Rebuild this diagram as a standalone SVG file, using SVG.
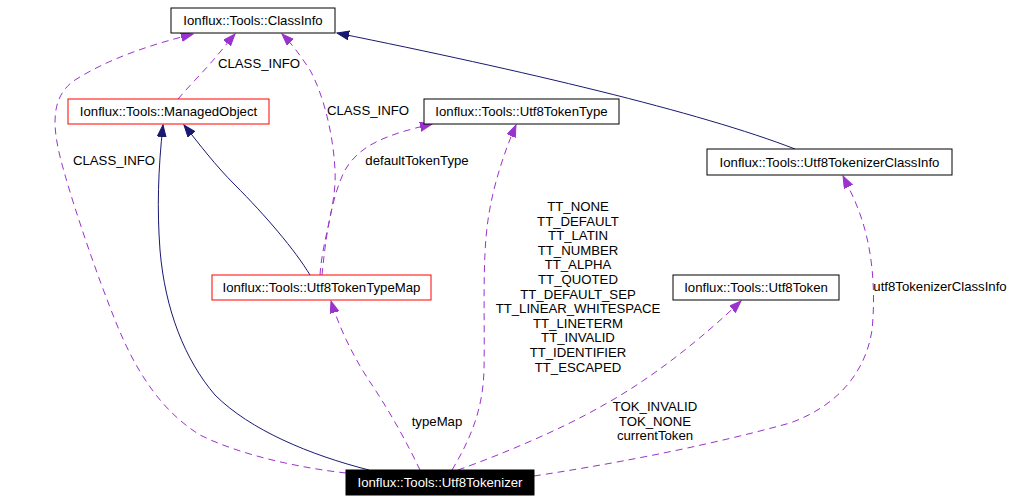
<svg xmlns="http://www.w3.org/2000/svg" width="1029" height="501" viewBox="0 0 1029 501">
<style>
  text { font-family: "Liberation Sans", Arial, sans-serif; font-size: 13.2px; fill: #000; }
  .c { text-anchor: middle; }
  .node rect { fill: #fff; stroke: #000; stroke-width: 1; }
  .node.red rect { stroke: #ff0000; }
  .node.self rect { fill: #000; stroke: #000; }
  .node.self text { fill: #fff; }
  .inh { fill: none; stroke: #191970; stroke-width: 1; marker-end: url(#ab); }
  .use { fill: none; stroke: #9a32cd; stroke-width: 1; stroke-dasharray: 7,5; marker-end: url(#ap); }
</style>
<defs>
  <marker id="ab" markerUnits="userSpaceOnUse" markerWidth="13" markerHeight="10" refX="12" refY="4.5" orient="auto">
    <path d="M0,0 L12,4.5 L0,9 z" fill="#191970" stroke="#191970" stroke-width="1"/>
  </marker>
  <marker id="ap" markerUnits="userSpaceOnUse" markerWidth="13" markerHeight="10" refX="12" refY="4.5" orient="auto">
    <path d="M0,0 L12,4.5 L0,9 z" fill="#9a32cd" stroke="#9a32cd" stroke-width="1"/>
  </marker>
</defs>
<rect x="0" y="0" width="1029" height="501" fill="#fff"/>

<g id="connectors">
  <!-- inheritance -->
  <path class="inh" d="M795,149 C700,112 520,70 337,33"/>
  <path class="inh" d="M369,470 C310,455 250,430 215,395 C185,360 165,310 160,250 C157,210 158,170 163,125"/>
  <path class="inh" d="M310,275 C295,250 265,215 235,185 C215,165 200,145 184,125"/>
  <!-- usage -->
  <path class="use" d="M346,473 C300,468 240,455 200,435 C160,410 135,370 115,320 C95,270 75,210 65,175 C55,140 45,100 75,80 C110,58 150,45 193,34"/>
  <path class="use" d="M178,99 C190,85 205,70 215,58 C222,50 228,42 235,34"/>
  <path class="use" d="M320,275 C322,240 337,205 335,170 C333,130 322,92 310,70 C300,55 292,44 282,34"/>
  <path class="use" d="M322,275 C325,245 330,200 345,170 C360,145 385,135 432,124"/>
  <path class="use" d="M420,470 C408,445 392,415 372,385 C355,360 340,330 331,301"/>
  <path class="use" d="M452,470 C470,440 483,410 484,370 C485,320 482,260 488,220 C493,185 505,150 516,125"/>
  <path class="use" d="M458,470 C500,455 560,430 600,407 C650,380 700,340 741,301"/>
  <path class="use" d="M534,476 C600,466 700,448 790,423 C840,405 866,370 872,330 C876,290 872,250 862,220 C857,204 850,190 843,176"/>

  <text class="c" x="114" y="165">CLASS_INFO</text>
  <text class="c" x="259" y="68">CLASS_INFO</text>
  <text class="c" x="368" y="115">CLASS_INFO</text>
  <text class="c" x="417" y="165">defaultTokenType</text>
  <text class="c" x="437" y="426">typeMap</text>
  <text class="c" x="578" y="211">TT_NONE</text>
  <text class="c" x="578" y="225.6">TT_DEFAULT</text>
  <text class="c" x="578" y="240.2">TT_LATIN</text>
  <text class="c" x="578" y="254.8">TT_NUMBER</text>
  <text class="c" x="578" y="269.4">TT_ALPHA</text>
  <text class="c" x="578" y="284">TT_QUOTED</text>
  <text class="c" x="578" y="298.6">TT_DEFAULT_SEP</text>
  <text class="c" x="578" y="313.2">TT_LINEAR_WHITESPACE</text>
  <text class="c" x="578" y="327.8">TT_LINETERM</text>
  <text class="c" x="578" y="342.4">TT_INVALID</text>
  <text class="c" x="578" y="357">TT_IDENTIFIER</text>
  <text class="c" x="578" y="371.6">TT_ESCAPED</text>
  <text class="c" x="655" y="411">TOK_INVALID</text>
  <text class="c" x="655" y="425.6">TOK_NONE</text>
  <text class="c" x="655" y="440.2">currentToken</text>
  <text class="c" x="940" y="291">utf8TokenizerClassInfo</text>
</g>

<g id="classinfo" class="node">
  <rect x="171" y="8" width="164" height="25"/>
  <text class="c" x="253" y="25">Ionflux::Tools::ClassInfo</text>
</g>
<g id="managedobject" class="node red">
  <rect x="68" y="99" width="201" height="25"/>
  <text class="c" x="168.5" y="116">Ionflux::Tools::ManagedObject</text>
</g>
<g id="utf8tokentype" class="node">
  <rect x="424" y="99" width="195" height="25"/>
  <text class="c" x="521.5" y="116">Ionflux::Tools::Utf8TokenType</text>
</g>
<g id="utf8tokenizerclassinfo" class="node">
  <rect x="707" y="149" width="245" height="26"/>
  <text class="c" x="829.5" y="166.5">Ionflux::Tools::Utf8TokenizerClassInfo</text>
</g>
<g id="utf8tokentypemap" class="node red">
  <rect x="212" y="275" width="219" height="25"/>
  <text class="c" x="321.5" y="292">Ionflux::Tools::Utf8TokenTypeMap</text>
</g>
<g id="utf8token" class="node">
  <rect x="673" y="275" width="166" height="25"/>
  <text class="c" x="756" y="292">Ionflux::Tools::Utf8Token</text>
</g>
<g id="utf8tokenizer" class="node self">
  <rect x="346" y="470" width="188" height="25"/>
  <text class="c" x="440" y="487">Ionflux::Tools::Utf8Tokenizer</text>
</g>
</svg>
